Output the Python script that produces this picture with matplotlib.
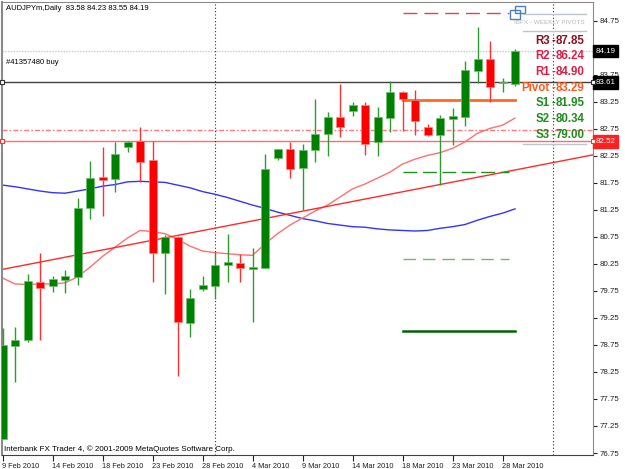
import matplotlib
matplotlib.use("Agg")
import matplotlib.pyplot as plt
from matplotlib.patches import Rectangle
import matplotlib.transforms as mtransforms

plt.rcParams['font.family'] = ['Liberation Sans', 'DejaVu Sans']

# ---------------- data ----------------
symbol_title = "AUDJPYm,Daily  83.58 84.23 83.55 84.19"
order_label = "#41357480 buy"
footer = "Interbank FX Trader 4, \u00a9 2001-2009 MetaQuotes Software Corp."

opens = [77.01, 78.73, 78.84, 79.92, 79.85, 79.95, 80.00, 81.29, 81.86, 81.82,
         82.42, 82.52, 82.18, 80.46, 80.74, 79.15, 79.78, 79.85, 80.23, 80.27,
         80.15, 80.18, 82.21, 82.38, 82.02, 82.36, 82.66, 82.98, 83.09, 83.19,
         82.50, 82.95, 83.43, 83.29, 82.79, 82.63, 82.94, 82.98, 83.83, 84.04,
         83.60, 83.58]
highs = [79.06, 79.09, 80.06, 80.45, 80.02, 80.14, 81.47, 82.16, 82.41, 82.51,
         82.53, 82.79, 82.52, 80.79, 80.77, 79.78, 80.03, 80.48, 80.81, 80.43,
         80.54, 82.29, 82.38, 82.51, 82.48, 83.31, 83.06, 83.58, 83.24, 83.24,
         83.16, 83.64, 83.45, 83.47, 82.84, 83.01, 83.13, 84.00, 84.64, 84.37,
         83.69, 84.23]
lows = [77.00, 78.07, 78.81, 78.84, 79.74, 79.72, 79.86, 81.08, 81.13, 81.59,
        82.33, 81.77, 79.92, 79.69, 78.18, 78.89, 79.75, 79.61, 79.92, 79.91,
        79.17, 80.17, 82.18, 81.84, 81.25, 82.13, 82.24, 82.60, 82.99, 82.27,
        82.24, 82.70, 82.72, 82.64, 82.62, 81.71, 82.45, 82.81, 83.60, 83.24,
        83.44, 83.55]
closes = [78.75, 78.84, 79.94, 79.80, 79.97, 80.02, 81.28, 81.84, 81.81, 82.28,
          82.51, 82.14, 80.46, 80.74, 79.17, 79.62, 79.86, 80.23, 80.29, 80.17,
          80.20, 82.01, 82.37, 82.00, 82.36, 82.66, 82.98, 82.79, 83.19, 82.48,
          82.97, 83.43, 83.31, 82.90, 82.63, 82.95, 82.99, 83.84, 84.04, 83.53,
          83.61, 84.19]

ma_slow = [81.71, 81.68, 81.64, 81.60, 81.57, 81.56, 81.60, 81.64, 81.69, 81.72,
           81.77, 81.78, 81.77, 81.76, 81.71, 81.66, 81.59, 81.54, 81.48, 81.41,
           81.34, 81.28, 81.21, 81.15, 81.09, 81.05, 81.00, 80.97, 80.94, 80.93,
           80.90, 80.88, 80.87, 80.86, 80.87, 80.91, 80.94, 80.98, 81.06, 81.13,
           81.19, 81.27]
ma_fast = [79.99, 79.88, 79.87, 79.88, 79.88, 79.90, 80.01, 80.19, 80.39, 80.56,
           80.73, 80.87, 80.85, 80.81, 80.71, 80.58, 80.49, 80.46, 80.44, 80.42,
           80.41, 80.62, 80.81, 80.97, 81.10, 81.23, 81.34, 81.49, 81.64, 81.73,
           81.84, 81.95, 82.10, 82.19, 82.26, 82.31, 82.39, 82.51, 82.67, 82.76,
           82.82, 82.95]

trend_points = [(0, 80.15), (41, 81.99)]

pivot_names = ["R3", "R2", "R1", "Pivot", "S1", "S2", "S3"]
pivot_values = [87.85, 86.24, 84.90, 83.29, 81.95, 80.34, 79.00]

bid_price = 84.19
order_price = 83.61
sl_price = 82.52
level_price = 82.73

tick_idx = [0, 4, 8, 12, 16, 20, 24, 28, 32, 36, 40]
tick_labels = ["9 Feb 2010", "14 Feb 2010", "18 Feb 2010", "23 Feb 2010",
               "28 Feb 2010", "4 Mar 2010", "9 Mar 2010", "14 Mar 2010",
               "18 Mar 2010", "23 Mar 2010", "28 Mar 2010"]
price_ticks = [76.75, 77.25, 77.75, 78.25, 78.75, 79.25, 79.75, 80.25, 80.75,
               81.25, 81.75, 82.25, 82.75, 83.25, 83.75, 84.25, 84.75]
separator_idx = [17, 44]
pivot_start, pivot_end = 32, 41

# ---------------- figure ----------------
W, H = 625, 469
fig = plt.figure(figsize=(W / 100, H / 100), dpi=100)
fig.patch.set_facecolor('white')
ax = fig.add_axes([2 / W, 14 / H, 591 / W, 453 / H])
ax.set_facecolor('white')
ax.set_xlim(-0.04, 47.24)
ax.set_ylim(76.713, 85.10)

GREEN = '#008000'
RED = '#ff0000'

# horizontal lines
ax.axhline(bid_price, color='#d9c3cb', lw=1, ls=(0, (1, 1)), zorder=1)
ax.axhline(order_price, color='#404040', lw=1, zorder=1)
ax.axhline(level_price, color='#ff7a7a', lw=1, ls=(0, (3.6, 1.5, 1.2, 1.5)), zorder=1)
ax.axhline(sl_price, color='#ff6a6a', lw=1, zorder=1)

# separators
for s in separator_idx:
    ax.axvline(s, color='#303030', lw=0.8, ls=(0, (1, 2)), zorder=1)

# moving averages and trend line
xs = list(range(len(closes)))
ax.plot(xs, ma_slow, color='#3333ff', lw=1, zorder=2)
ax.plot(xs, ma_fast, color='#ff7070', lw=1, zorder=2)
(tx0, ty0), (tx1, ty1) = trend_points
slope = (ty1 - ty0) / (tx1 - tx0)
ax.plot([-1, 48], [ty0 + slope * (-1 - tx0), ty0 + slope * (48 - tx0)],
        color='#ff2a2a', lw=1, zorder=2)

# pivot lines
ax.plot([pivot_start, pivot_end - 0.5], [pivot_values[2]] * 2, color='#e0405a',
        lw=1, ls=(0, (10, 5)), zorder=2)
ax.plot([pivot_start, pivot_end], [pivot_values[3]] * 2, color='#ff6a20', lw=2, zorder=2)
ax.plot([pivot_start, pivot_end - 0.5], [pivot_values[4]] * 2, color='#1f8f1f',
        lw=1, ls=(0, (10, 4)), zorder=2)
ax.plot([pivot_start, pivot_end - 0.5], [pivot_values[5]] * 2, color='#6fb86f',
        lw=1, ls=(0, (9, 5)), zorder=2)
ax.plot([pivot_start, pivot_end], [pivot_values[6]] * 2, color='#006400', lw=1.8, zorder=2)

# candles
for i, (o, h, l, c) in enumerate(zip(opens, highs, lows, closes)):
    up = c >= o
    col = GREEN if up else RED
    wick = '#2f9a2f' if up else '#ff3030'
    ax.vlines(i, l, h, color=wick, lw=1, zorder=3)
    bottom = min(o, c)
    height = max(abs(c - o), 0.02)
    ax.add_patch(Rectangle((i - 0.32, bottom), 0.64, height, facecolor=col,
                           edgecolor='#6fbf6f' if up else '#ff8080', lw=0.5, zorder=4))

# axes styling
for sp in ['top', 'left', 'right']:
    ax.spines[sp].set_color('#8a8a8a')
ax.spines['left'].set_linewidth(1.5)
ax.spines['bottom'].set_color('#404040')
ax.yaxis.tick_right()
ax.set_yticks(price_ticks)
ax.set_yticklabels([f"{p:.2f}" for p in price_ticks])
ax.tick_params(axis='y', length=3, width=0.8, pad=1.5, labelsize=5.7, colors='#202020')
ax.set_xticks(tick_idx)
ax.set_xticklabels(tick_labels, ha='left')
ax.tick_params(axis='x', length=4, width=0.8, pad=1.5, labelsize=5.3, colors='#202020')

# price boxes on axis
bt = mtransforms.blended_transform_factory(ax.transAxes, ax.transData)
for price, bg in [(bid_price, 'black'), (order_price, 'black'), (sl_price, '#ff2020')]:
    ax.text(1.004, price, f"{price:.2f}", transform=bt, fontsize=5.7, color='white',
            va='center', ha='left', clip_on=False, zorder=10,
            bbox=dict(boxstyle='square,pad=0.35', facecolor=bg, edgecolor=bg))

# small squares on order lines
def px(x, y):
    return x / W, 1 - y / H

for yy, ec in [(order_price, '#303030'), (sl_price, '#ff3030')]:
    for xx in [0.0, 1.0]:
        ax.plot([xx], [yy], marker='s', ms=3, mfc='white', mec=ec, mew=0.8,
                transform=bt, clip_on=False, zorder=11)

# texts
fig.text(*px(6, 8), symbol_title, fontsize=5.5, va='center', ha='left', color='black')
fig.text(*px(6, 63), order_label, fontsize=5.5, va='center', ha='left', color='black')
fig.text(*px(4, 449), footer, fontsize=5.8, va='center', ha='left', color='black')

# pivot panel
fig.text(*px(514, 22.5), "IBFX - WEEKLY PIVOTS", fontsize=4.6, color='#b8b8b8',
         va='center', ha='left')
for (x0, y0, x1, y1) in [(523, 14.3, 586, 14.3), (523, 30.7, 586, 30.7), (523, 144, 586, 144)]:
    fig.add_artist(plt.Line2D([x0 / W, x1 / W], [1 - y0 / H, 1 - y1 / H],
                              color='#c0c4cc', lw=1))
fig.add_artist(Rectangle(px(515, 13), 10 / W, 7 / H, fill=False, ec='#4a7fc0', lw=1))
fig.add_artist(Rectangle(px(510, 19), 10 / W, 9 / H, fill=False, ec='#4a7fc0', lw=1))

pivot_colors = ['#8b1020', '#dc1e45', '#dc1e45', '#ff5a1e', '#1e8c1e', '#1e8c1e', '#1e8c1e']
label_y = [41, 56, 72, 88, 103, 119, 135]
for name, val, colr, yy in zip(pivot_names, pivot_values, pivot_colors, label_y):
    fig.text(*px(550, yy), name, fontsize=8.3, fontweight='bold', color=colr,
             va='center', ha='right')
    fig.text(*px(552, yy), "-", fontsize=8.3, fontweight='bold', color=colr,
             va='center', ha='left')
    fig.text(*px(556, yy), f"{val:.2f}", fontsize=8.3, fontweight='bold', color=colr,
             va='center', ha='left')

fig.savefig('out.png', dpi=100, facecolor='white')
